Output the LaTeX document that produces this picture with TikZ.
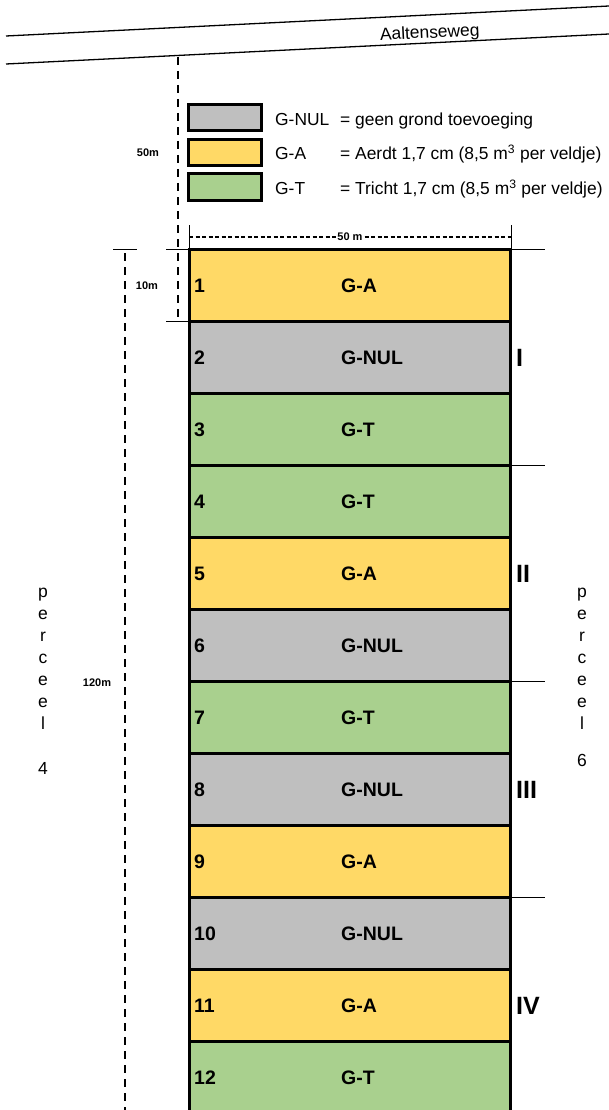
\documentclass[tikz,border=0pt]{standalone}
\usepackage{fontspec}
\setmainfont{Liberation Sans}
\usetikzlibrary{positioning}

\definecolor{kleurNUL}{HTML}{BFBFBF}
\definecolor{kleurA}{HTML}{FFD966}
\definecolor{kleurT}{HTML}{A9D08E}

\begin{document}
\begin{tikzpicture}[x=1pt, y=-1pt,
        veld/.style={draw, line width=3pt, minimum width=321pt, minimum height=72pt, inner sep=0pt, outer sep=0pt},
        legvak/.style={draw, line width=3pt, minimum width=73pt, minimum height=26pt, inner sep=0pt},
        lab/.style={font=\fontsize{17.4}{20}\selectfont, inner sep=0pt, anchor=base west},
        nr/.style={font=\fontsize{19.5}{22}\selectfont\bfseries, inner sep=0pt, anchor=west},
        romein/.style={font=\fontsize{25}{27}\selectfont\bfseries, inner sep=0pt, anchor=west},
        maat/.style={font=\fontsize{11}{13}\selectfont\bfseries, inner sep=1.5pt},
        perc/.style={font=\fontsize{17.5}{19}\selectfont, inner sep=0pt, anchor=base},
        dun/.style={line width=1pt},
        streep/.style={line width=1.5pt, dash pattern=on 8pt off 6pt},
        fijnstreep/.style={line width=1.2pt, dash pattern=on 4pt off 2.5pt}]
    \useasboundingbox (0,0) rectangle (609,1110);

    % Aaltenseweg
    \draw[line width=1.3pt] (6,36) -- (609,6);
    \draw[line width=1.3pt] (6,64) -- (609,34);
    \node[rotate=2.85, font=\fontsize{17.4}{20}\selectfont, inner sep=0pt, anchor=base] (weg) at (430,38) {Aaltenseweg};

    % legenda
    \node[legvak, fill=kleurNUL] (lnul) at (225,118) {};
    \node[legvak, fill=kleurA, below=5.5pt of lnul] (la) {};
    \node[legvak, fill=kleurT, below=5.5pt of la] (lt) {};
    \node[lab] (tnul) at (275,125.5) {G-NUL};
    \node[lab] (ta) at (275,160) {G-A};
    \node[lab] (tt) at (275,194.5) {G-T};
    \node[lab] (unul) at (340,125.5) {= geen grond toevoeging};
    \node[lab] (ua) at (340,160) {= Aerdt 1,7 cm (8,5 m\textsuperscript{3} per veldje)};
    \node[lab] (ut) at (340,194.5) {= Tricht 1,7 cm (8,5 m\textsuperscript{3} per veldje)};

    % veldjes
    \foreach \typ [count=\i] in {A,NUL,T,T,A,NUL,T,NUL,A,NUL,A,T}{
        \node[veld, fill=kleur\typ] (r\i) at (350,213.5+72*\i) {};
        \node[nr] (n\i) at ([xshift=4.5pt]r\i.west) {\i};
        \node[nr] (g\i) at ([xshift=-9pt]r\i.center) {G-\typ};
    }
    \foreach \rom/\j in {I/2,II/5,III/8,IV/11}
        \node[romein] (b\j) at ([xshift=5.5pt]r\j.east) {\rom};
    \foreach \j in {1,4,7,10}
        \draw[dun] (r\j.north east) -- +(34,0);

    % maatvoering
    \coordinate (wegrand) at (178,57);
    \coordinate (v1) at (178,318);
    \draw[streep] (wegrand) -- (v1);
    \draw[dun] (r1.north west) -- +(-24,0);
    \draw[dun] (r1.south west) -- +(-24,0);
    \node[maat] (m50b) at (148,153) {50m};
    \node[maat] (m10) at (147,286) {10m};

    \coordinate (k1) at (113,249);
    \coordinate (k2) at (137,249);
    \coordinate (l1) at (125,253);
    \coordinate (l2) at (125,1112);
    \draw[dun] (k1) -- (k2);
    \draw[streep] (l1) -- (l2);
    \node[maat] (m120) at (97,683) {120m};

    \coordinate (h1) at (189,225);
    \coordinate (h2) at (511,225);
    \coordinate (d1) at (189,237);
    \coordinate (d2) at (511,237);
    \draw[dun] (h1) -- (h1 |- r1.north);
    \draw[dun] (h2) -- (h2 |- r1.north);
    \draw[fijnstreep] (d1) -- (d2);
    \node[maat, fill=white] (m50) at (350,237) {50 m};

    % percelen
    \foreach \c [count=\k] in {p,e,r,c,e,e,l}{
        \node[perc] (pl\k) at (43,575+22*\k) {\c};
        \node[perc] (pr\k) at (582,575+22*\k) {\c};
    }
    \node[perc] (pl8) at (43,774) {4};
    \node[perc] (pr8) at (582,766) {6};
\end{tikzpicture}
\end{document}
